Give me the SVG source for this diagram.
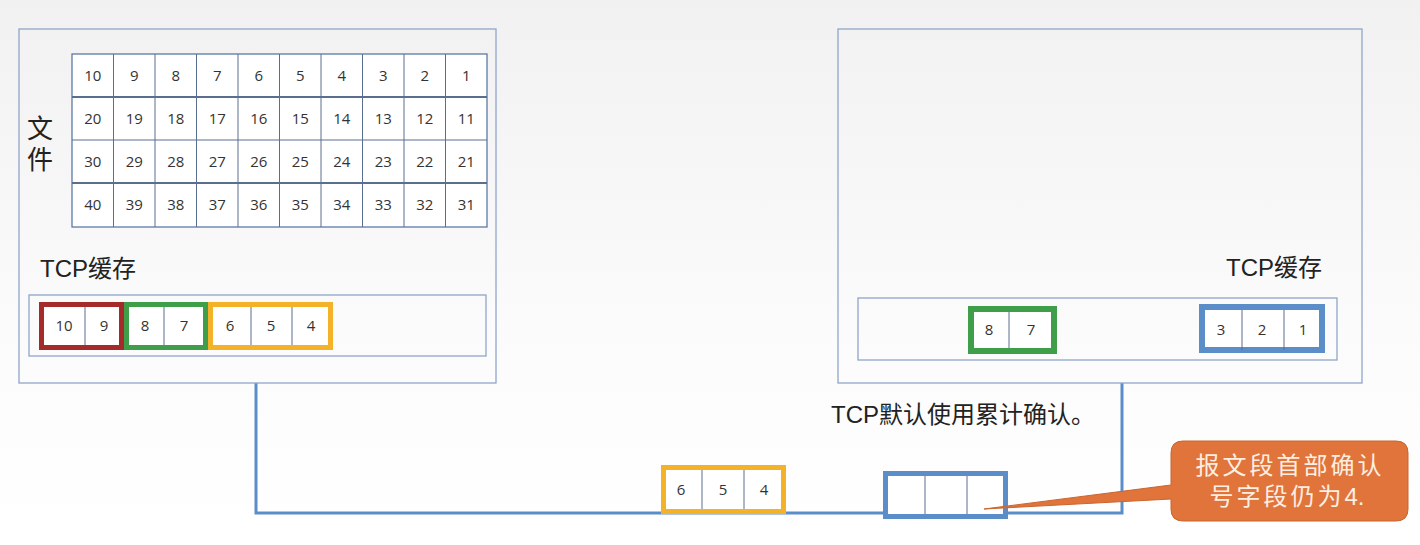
<svg xmlns="http://www.w3.org/2000/svg" width="1420" height="545" viewBox="0 0 1420 545">
<defs>
<linearGradient id="bg" x1="0" y1="0" x2="0" y2="1">
<stop offset="0" stop-color="#f1f1f1"/>
<stop offset="0.6" stop-color="#fbfbfb"/>
<stop offset="1" stop-color="#ffffff"/>
</linearGradient>
<style>
.box{fill:none;stroke:#8fa6c8;stroke-width:1.3}
.cell{fill:#ffffff;stroke:#4f6f9f;stroke-width:1.2}
.num{font-family:"Open Sans","Liberation Sans",sans-serif;font-size:15px;fill:#333;text-anchor:middle}
.lbl{font-family:"Liberation Sans","Noto Sans CJK SC",sans-serif;font-size:24px;fill:#222}
.div{stroke:#5a6f90;stroke-width:1}
.wire{fill:none;stroke:#5b8dc8;stroke-width:3}
.call{font-family:"Liberation Sans","Noto Sans CJK SC",sans-serif;font-size:24px;letter-spacing:3px;fill:#fdeee2;text-anchor:middle}
</style>
</defs>
<rect width="1420" height="545" fill="url(#bg)"/>

<g id="connectors">
<path class="wire" d="M256,383 V513 H1122 V383"/>
</g>

<g id="sender">
<rect class="box" x="19" y="29" width="477" height="354"/>
<text x="40" y="115" writing-mode="vertical-rl" font-family="Noto Sans CJK SC,sans-serif" font-size="26" letter-spacing="5" fill="#222">文件</text>
<g id="file-grid">
<rect class="cell" x="72" y="54" width="415" height="173"/>
<g class="div" stroke="#4f6f9f">
<line x1="72" y1="97" x2="487" y2="97" stroke-width="2"/>
<line x1="72" y1="140" x2="487" y2="140"/>
<line x1="72" y1="183" x2="487" y2="183" stroke-width="2"/>
<line x1="113.5" y1="54" x2="113.5" y2="227"/>
<line x1="155" y1="54" x2="155" y2="227"/>
<line x1="196.5" y1="54" x2="196.5" y2="227"/>
<line x1="238" y1="54" x2="238" y2="227"/>
<line x1="279.5" y1="54" x2="279.5" y2="227"/>
<line x1="321" y1="54" x2="321" y2="227"/>
<line x1="362.5" y1="54" x2="362.5" y2="227"/>
<line x1="404" y1="54" x2="404" y2="227"/>
<line x1="445.5" y1="54" x2="445.5" y2="227"/>
</g>
<g class="num">
<text x="92.8" y="81">10</text><text x="134.3" y="81">9</text><text x="175.8" y="81">8</text><text x="217.3" y="81">7</text><text x="258.8" y="81">6</text><text x="300.3" y="81">5</text><text x="341.8" y="81">4</text><text x="383.3" y="81">3</text><text x="424.8" y="81">2</text><text x="466.3" y="81">1</text>
<text x="92.8" y="124">20</text><text x="134.3" y="124">19</text><text x="175.8" y="124">18</text><text x="217.3" y="124">17</text><text x="258.8" y="124">16</text><text x="300.3" y="124">15</text><text x="341.8" y="124">14</text><text x="383.3" y="124">13</text><text x="424.8" y="124">12</text><text x="466.3" y="124">11</text>
<text x="92.8" y="167">30</text><text x="134.3" y="167">29</text><text x="175.8" y="167">28</text><text x="217.3" y="167">27</text><text x="258.8" y="167">26</text><text x="300.3" y="167">25</text><text x="341.8" y="167">24</text><text x="383.3" y="167">23</text><text x="424.8" y="167">22</text><text x="466.3" y="167">21</text>
<text x="92.8" y="210">40</text><text x="134.3" y="210">39</text><text x="175.8" y="210">38</text><text x="217.3" y="210">37</text><text x="258.8" y="210">36</text><text x="300.3" y="210">35</text><text x="341.8" y="210">34</text><text x="383.3" y="210">33</text><text x="424.8" y="210">32</text><text x="466.3" y="210">31</text>
</g>
</g>
<text class="lbl" x="40" y="277">TCP缓存</text>
<rect class="box" x="29" y="295" width="457" height="61"/>
<g id="send-buffer">
<rect x="41.5" y="304.5" width="80" height="43" fill="#fff" stroke="#a52a2a" stroke-width="5"/>
<line class="div" x1="85" y1="307" x2="85" y2="345"/>
<rect x="126.5" y="304.5" width="79" height="43" fill="#fff" stroke="#3f9e4a" stroke-width="5"/>
<line class="div" x1="164" y1="307" x2="164" y2="345"/>
<rect x="210.5" y="304.5" width="120" height="43" fill="#fff" stroke="#f4b229" stroke-width="5"/>
<line class="div" x1="251" y1="307" x2="251" y2="345"/>
<line class="div" x1="292" y1="307" x2="292" y2="345"/>
<g class="num">
<text x="64" y="331">10</text><text x="104" y="331">9</text><text x="145" y="331">8</text><text x="184" y="331">7</text><text x="230" y="331">6</text><text x="271" y="331">5</text><text x="311" y="331">4</text>
</g>
</g>
</g>

<g id="receiver">
<rect class="box" x="838" y="29" width="524" height="354"/>
<text class="lbl" x="1226" y="276">TCP缓存</text>
<rect class="box" x="858" y="298" width="479" height="62"/>
<g id="recv-buffer">
<rect x="971" y="309" width="83" height="42" fill="#fff" stroke="#3f9e4a" stroke-width="6"/>
<line class="div" x1="1009" y1="312" x2="1009" y2="348"/>
<rect x="1202" y="307" width="120" height="43" fill="#fff" stroke="#5b8dc8" stroke-width="6"/>
<line class="div" x1="1242" y1="310" x2="1242" y2="350"/>
<line class="div" x1="1284" y1="310" x2="1284" y2="350"/>
<g class="num">
<text x="989" y="335">8</text><text x="1031" y="335">7</text><text x="1221" y="335">3</text><text x="1262" y="335">2</text><text x="1303" y="335">1</text>
</g>
</g>
</g>

<g id="segment-data">
<rect x="663.5" y="467.5" width="120" height="44" fill="#fff" stroke="#f4b229" stroke-width="5"/>
<line class="div" x1="702" y1="470" x2="702" y2="509" stroke="#a9b8cc"/>
<line class="div" x1="744" y1="470" x2="744" y2="509"/>
<g class="num">
<text x="681" y="495">6</text><text x="723" y="495">5</text><text x="764" y="495">4</text>
</g>
</g>

<g id="segment-ack">
<rect x="885.5" y="473.5" width="120" height="43" fill="#fff" stroke="#5b8dc8" stroke-width="5"/>
<line class="div" x1="925" y1="476" x2="925" y2="514"/>
<line class="div" x1="967" y1="476" x2="967" y2="514"/>
</g>

<g id="note">
<text class="lbl" x="831" y="423" font-size="25">TCP默认使用累计确认。</text>
</g>

<g id="callout">
<path d="M1183,441 H1396 Q1408,441 1408,453 V509 Q1408,521 1396,521 H1183 Q1171,521 1171,509 V499 L984,509 L1171,485 V453 Q1171,441 1183,441 Z" fill="#e0743a" stroke="#c9652f" stroke-width="1"/>
<text class="call" x="1290" y="474">报文段首部确认</text>
<text class="call" x="1287" y="505">号字段仍为<tspan letter-spacing="0">4.</tspan></text>
</g>
</svg>
